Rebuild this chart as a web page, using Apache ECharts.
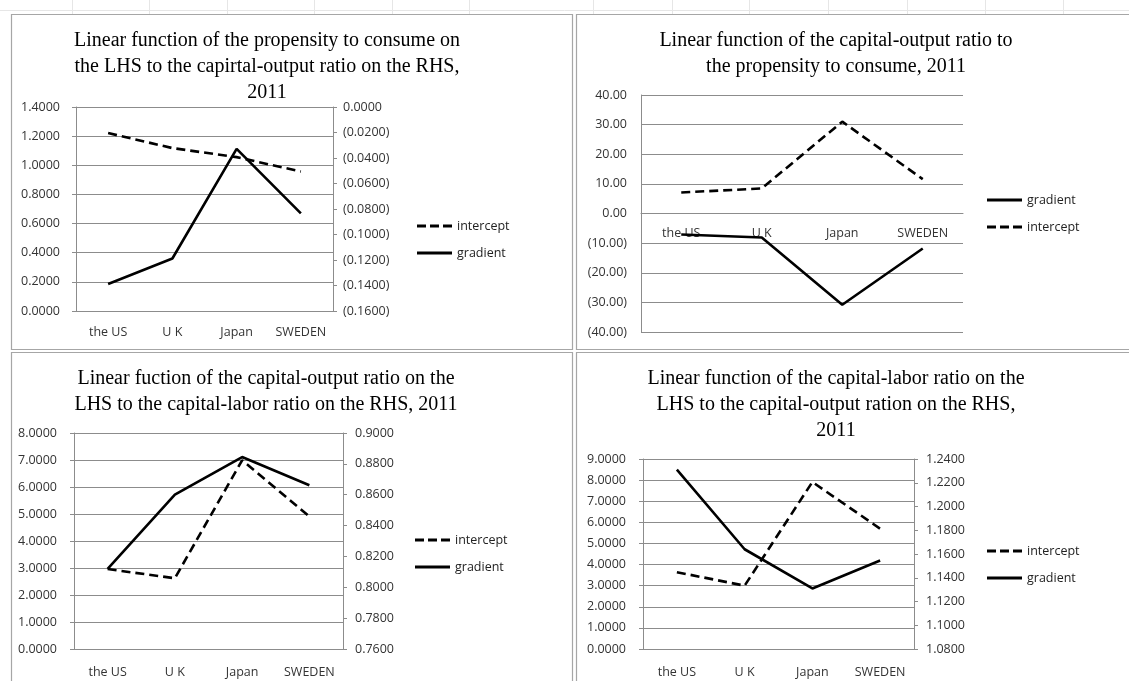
<!DOCTYPE html>
<html>
<head>
<meta charset="utf-8">
<script src="https://cdn.jsdelivr.net/npm/echarts@6/dist/echarts.min.js"></script>
<style>
html,body{margin:0;padding:0;background:#fff;}
#chart{width:1129px;height:681px;}
</style>
</head>
<body>
<div id="chart"></div>
<script>
// ---- data ----
const categories = ['the US', 'U K', 'Japan', 'SWEDEN'];

const title1 = 'Linear function of the propensity to consume on\nthe LHS to the capirtal-output ratio on the RHS,\n2011';
const p1Intercept = [1.221, 1.118, 1.056, 0.957];
const p1Gradient = [-0.1388, -0.1188, -0.0328, -0.0834];

const title2 = 'Linear function of the capital-output ratio to\nthe propensity to consume, 2011';
const p2Gradient = [-7.1, -8.1, -30.8, -11.8];
const p2Intercept = [7.1, 8.45, 31.0, 11.6];

const title3 = 'Linear fuction of the capital-output ratio on the\nLHS to the capital-labor ratio on the RHS, 2011';
const p3Intercept = [2.96, 2.62, 6.99, 4.91];
const p3Gradient = [0.8119, 0.860, 0.8844, 0.8661];

const title4 = 'Linear function of the capital-labor ratio on the\nLHS to the capital-output ration on the RHS,\n2011';
const p4Intercept = [3.64, 3.0, 7.91, 5.70];
const p4Gradient = [1.231, 1.164, 1.131, 1.1545];

// ---- styling helpers ----
const GRID_COLOR = '#8c8c8c';
const LABEL_COLOR = '#333';
const LABEL_FONT = 'Open Sans';
const LABEL_SIZE = 12.5;
const DASH_ICON = 'path://M0,0h9v3h-9z M13,0h9v3h-9z M26,0h9v3h-9z';
const SOLID_ICON = 'path://M0,0h35v3h-35z';

function fmt(d) {
  return function (v) {
    const r = Math.round(v * Math.pow(10, d)) / Math.pow(10, d);
    if (r < 0) return '(' + Math.abs(r).toFixed(d) + ')';
    return Math.abs(r).toFixed(d);
  };
}

function lbl(d, margin) {
  return { formatter: fmt(d), color: LABEL_COLOR, fontFamily: LABEL_FONT, fontSize: LABEL_SIZE, margin: margin };
}

function valueAxis(gi, min, max, interval, pos, label, opts) {
  return Object.assign({
    type: 'value', gridIndex: gi, position: pos,
    min: min, max: max, interval: interval,
    axisLine: { show: true, lineStyle: { color: GRID_COLOR, width: 1 } },
    axisTick: { show: true, length: 4, lineStyle: { color: GRID_COLOR } },
    splitLine: { show: pos === 'left', lineStyle: { color: GRID_COLOR, width: 1 } },
    axisLabel: label
  }, opts || {});
}

function catAxis(gi, margin, opts) {
  return Object.assign({
    type: 'category', gridIndex: gi, data: categories, boundaryGap: true, position: 'bottom',
    axisLine: { show: true, onZero: false, lineStyle: { color: GRID_COLOR, width: 1 } },
    axisTick: { show: false },
    axisLabel: { interval: 0, hideOverlap: false, color: LABEL_COLOR, fontFamily: LABEL_FONT, fontSize: LABEL_SIZE, margin: margin }
  }, opts || {});
}

function lineSeries(name, xi, yi, data, dashed) {
  return {
    name: name, type: 'line', xAxisIndex: xi, yAxisIndex: yi, data: data,
    symbol: 'none', smooth: false,
    lineStyle: { color: '#000', width: 2.6, type: dashed ? [9, 5] : 'solid' },
    itemStyle: { color: '#000' }
  };
}

function mkTitle(text, cx, top) {
  return {
    text: text, left: cx, top: top, textAlign: 'center', padding: 0,
    textStyle: { fontFamily: 'Liberation Serif', fontSize: 20, fontWeight: 'normal', color: '#000', lineHeight: 26 }
  };
}

function mkLegend(left, top, items) {
  return {
    orient: 'vertical', left: left, top: top, padding: 0,
    itemWidth: 35, itemHeight: 3, itemGap: 13,
    selectedMode: false,
    textStyle: { fontFamily: LABEL_FONT, fontSize: 12.5, color: '#222', lineHeight: 14 },
    data: items.map(n => ({ name: n, icon: n === 'intercept' ? DASH_ICON : SOLID_ICON }))
  };
}

// background sheet lines + panel frames
const graphics = [];
graphics.push({ type: 'line', shape: { x1: 0, y1: 10.5, x2: 1129, y2: 10.5 }, style: { stroke: '#e6e6e6', lineWidth: 1 }, silent: true });
[72, 149, 227, 314, 392, 469, 593, 672, 749, 828, 907, 985, 1063].forEach(x => {
  graphics.push({ type: 'line', shape: { x1: x + 0.5, y1: 0, x2: x + 0.5, y2: 14 }, style: { stroke: '#e6e6e6', lineWidth: 1 }, silent: true });
});
[[11, 14, 561, 335], [576, 14, 600, 335], [11, 352, 561, 360], [576, 352, 600, 360]].forEach(r => {
  graphics.push({ type: 'rect', shape: { x: r[0] + 0.5, y: r[1] + 0.5, width: r[2], height: r[3] }, style: { fill: 'none', stroke: '#a6a6a6', lineWidth: 1.2 }, silent: true });
});

const G2_HEIGHT = 237;

const option = {
  animation: false,
  backgroundColor: '#fff',
  graphic: graphics,
  title: [
    mkTitle(title1, 267, 28),
    mkTitle(title2, 836, 28),
    mkTitle(title3, 266, 366),
    mkTitle(title4, 836, 366)
  ],
  legend: [
    mkLegend(417, 219, ['intercept', 'gradient']),
    mkLegend(987, 193, ['gradient', 'intercept']),
    mkLegend(415, 533, ['intercept', 'gradient']),
    mkLegend(987, 544, ['intercept', 'gradient'])
  ],
  grid: [
    { left: 76, top: 107, width: 257, height: 204 },
    { left: 641, top: 95, width: 322, height: G2_HEIGHT },
    { left: 74, top: 433, width: 269, height: 216 },
    { left: 643, top: 459, width: 271, height: 190 }
  ],
  xAxis: [
    catAxis(0, 15),
    // category axis crosses the value axis at zero (middle of the -40..40 range)
    catAxis(1, 13, { offset: -G2_HEIGHT / 2 }),
    catAxis(2, 17),
    catAxis(3, 17)
  ],
  yAxis: [
    valueAxis(0, 0, 1.4, 0.2, 'left', lbl(4, 16)),
    valueAxis(0, -0.16, 0, 0.02, 'right', lbl(4, 10)),
    valueAxis(1, -40, 40, 10, 'left', lbl(2, 14), { axisTick: { show: false } }),
    valueAxis(2, 0, 8, 1, 'left', lbl(4, 17)),
    valueAxis(2, 0.76, 0.9, 0.02, 'right', lbl(4, 12)),
    valueAxis(3, 0, 9, 1, 'left', lbl(4, 17)),
    valueAxis(3, 1.08, 1.24, 0.02, 'right', lbl(4, 12))
  ],
  series: [
    lineSeries('intercept', 0, 0, p1Intercept, true),
    lineSeries('gradient', 0, 1, p1Gradient, false),
    lineSeries('gradient', 1, 2, p2Gradient, false),
    lineSeries('intercept', 1, 2, p2Intercept, true),
    lineSeries('intercept', 2, 3, p3Intercept, true),
    lineSeries('gradient', 2, 4, p3Gradient, false),
    lineSeries('intercept', 3, 5, p4Intercept, true),
    lineSeries('gradient', 3, 6, p4Gradient, false)
  ]
};

const chart = echarts.init(document.getElementById('chart'), null, { renderer: 'canvas' });
chart.setOption(option);
</script>
</body>
</html>
